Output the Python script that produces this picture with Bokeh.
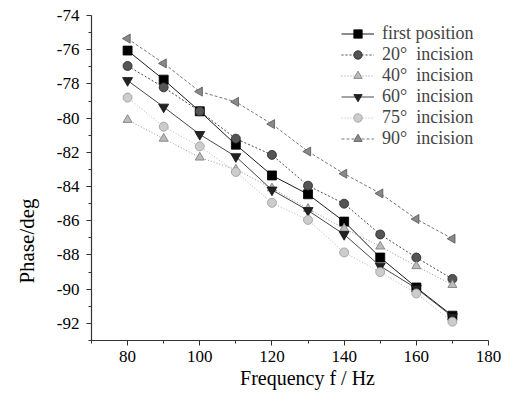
import math
from bokeh.plotting import figure
from bokeh.models import Range1d, FixedTicker, PrintfTickFormatter
from bokeh.embed import file_html
from bokeh.resources import INLINE

# ---- data ----
freq = [80, 90, 100, 110, 120, 130, 140, 150, 160, 170]
first_position = [-76.05, -77.75, -79.6, -81.55, -83.35, -84.45, -86.05, -88.15, -89.9, -91.55]
inc20 = [-76.95, -78.2, -79.6, -81.2, -82.15, -83.95, -85.0, -86.8, -88.15, -89.4]
inc40 = [-80.1, -81.2, -82.3, -83.0, -84.1, -85.3, -86.45, -87.5, -88.65, -89.75]
inc60 = [-77.8, -79.35, -80.95, -82.25, -84.2, -85.4, -86.8, -88.65, -89.95, -91.6]
inc75 = [-78.8, -80.5, -81.65, -83.15, -84.95, -85.95, -87.85, -89.0, -90.25, -91.9]
inc90 = [-75.35, -76.8, -78.45, -79.05, -80.35, -81.95, -83.25, -84.4, -85.9, -87.05]

x_major = [80, 100, 120, 140, 160, 180]
x_minor = [70, 90, 110, 130, 150, 170]
y_major = [-92, -90, -88, -86, -84, -82, -80, -78, -76, -74]
y_minor = [-93, -91, -89, -87, -85, -83, -81, -79, -77, -75]

W, H = 502, 391
BL, BR, BT, BB = 91, 14, 15, 50
X0, X1, Y0, Y1 = 70, 180, -93, -74

p = figure(width=W, height=H, output_backend="svg", toolbar_location=None,
           x_range=Range1d(X0, X1), y_range=Range1d(Y0, Y1),
           min_border_left=BL, min_border_right=BR, min_border_top=BT, min_border_bottom=BB)
p.outline_line_color = None
p.grid.visible = False
p.background_fill_color = "white"

FONT = "Liberation Serif"

p.axis.axis_line_color = "#333333"
p.axis.axis_line_width = 1.2
p.axis.major_tick_line_color = "#333333"
p.axis.minor_tick_line_color = "#333333"
p.axis.major_tick_out = 5
p.axis.major_tick_in = 0
p.axis.minor_tick_out = 3
p.axis.minor_tick_in = 0
p.axis.major_label_text_font = FONT
p.axis.major_label_text_font_size = "17px"
p.axis.major_label_text_color = "black"
p.axis.axis_label_text_font = FONT
p.axis.axis_label_text_font_style = "normal"
p.axis.axis_label_text_color = "black"

p.xaxis.ticker = FixedTicker(ticks=x_major, minor_ticks=x_minor)
p.yaxis.ticker = FixedTicker(ticks=y_major, minor_ticks=y_minor)
p.xaxis.formatter = PrintfTickFormatter(format="%d")
p.yaxis.formatter = PrintfTickFormatter(format="%d")
p.xaxis.major_label_standoff = 5
p.yaxis.major_label_standoff = 7

NB = "\u00a0"
p.xaxis.axis_label = NB * 7 + "Frequency f / Hz"
p.xaxis.axis_label_text_font_size = "20px"
p.xaxis.axis_label_standoff = 2
p.yaxis.axis_label = "Phase/deg" + NB * 24
p.yaxis.axis_label_text_font_size = "21px"
p.yaxis.axis_label_standoff = 15

series = [
    ("first position", first_position, "square", "black", "black", "solid", "#000000", 9),
    ("20°  incision", inc20, "circle", "#555555", "#222222", "2 2", "#333333", 9),
    ("40°  incision", inc40, "triangle", "#bbbbbb", "#777777", "1 2", "#888888", 9),
    ("60°  incision", inc60, "inverted_triangle", "#222222", "#111111", "solid", "#333333", 10),
    ("75°  incision", inc75, "circle", "#cccccc", "#999999", "1 2", "#aaaaaa", 9),
    ("90°  incision", inc90, "triangle", "#888888", "#555555", "3 2", "#666666", 9),
]

for name, ys, marker, fill, line, dash, lcol, size in series:
    p.line(freq, ys, line_color=lcol, line_width=0.9, line_dash=dash, legend_label=name)
    angle = math.pi / 2 if name.startswith("90") else 0
    p.scatter(freq, ys, marker=marker, size=size, fill_color=fill, line_color=line,
              line_width=0.8, angle=angle, legend_label=name)

leg = p.legend[0]
leg.location = (250, 191)
leg.label_text_font = FONT
leg.label_text_font_size = "18px"
leg.glyph_width = 33
leg.glyph_height = 21
leg.label_height = 21
leg.spacing = 0
leg.padding = 0
leg.margin = 0
leg.label_standoff = 8
leg.border_line_alpha = 0
leg.background_fill_alpha = 0

open("out.html", "w").write(file_html(p, INLINE))
